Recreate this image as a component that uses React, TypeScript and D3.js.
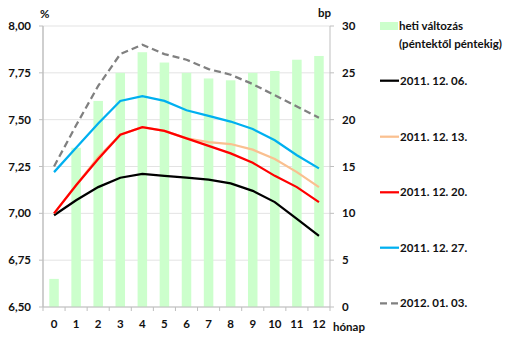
import React from "react";
import * as d3 from "d3";

const months = ["0", "1", "2", "3", "4", "5", "6", "7", "8", "9", "10", "11", "12"];
const weeklyChange = [3, 17, 22, 25, 27.2, 26.1, 25, 24.4, 24.2, 25, 25.2, 26.4, 26.8];
const s1206 = [6.99, 7.07, 7.14, 7.19, 7.21, 7.2, 7.19, 7.18, 7.16, 7.12, 7.06, 6.97, 6.88];
const s1213 = [7.0, 7.15, 7.3, 7.42, 7.46, 7.44, 7.4, 7.38, 7.37, 7.34, 7.29, 7.22, 7.14];
const s1220 = [7.0, 7.15, 7.29, 7.42, 7.46, 7.44, 7.4, 7.36, 7.32, 7.27, 7.2, 7.14, 7.06];
const s1227 = [7.22, 7.35, 7.48, 7.6, 7.625, 7.6, 7.55, 7.52, 7.49, 7.45, 7.39, 7.31, 7.24];
const s0103 = [7.25, 7.47, 7.68, 7.85, 7.9, 7.85, 7.82, 7.77, 7.74, 7.69, 7.63, 7.57, 7.51];
const leftTicks = [6.5, 6.75, 7.0, 7.25, 7.5, 7.75, 8.0];
const rightTicks = [0, 5, 10, 15, 20, 25, 30];

const seriesNames = ["2011. 12. 06.", "2011. 12. 13.", "2011. 12. 20.", "2011. 12. 27.", "2012. 01. 03."];
const seriesData = [s1206, s1213, s1220, s1227, s0103];
const seriesColors = ["#000000", "#fac090", "#ff0000", "#00b0f0", "#808080"];
const barLabel = ["heti változás", "(péntektől péntekig)"];

export default function App() {
  const left = 43, right = 330, top = 26, bottom = 307;
  const step = (right - left) / months.length;
  const xc = (i: number) => left + step * (i + 0.5);
  const yL = d3.scaleLinear().domain([6.5, 8]).range([bottom, top]);
  const yR = d3.scaleLinear().domain([0, 30]).range([bottom, top]);
  const line = d3.line<number>().x((_, i) => xc(i)).y((d) => yL(d));
  const fmt = (v: number) => v.toFixed(2).replace(".", ",");
  const font = "Lato, 'DejaVu Sans', sans-serif";
  const bw = 9.5;
  const legendY = [80.7, 136.7, 192.3, 247.7, 303.3];
  const tc = "#111";

  return (
    <svg width={522} height={343} style={{ position: "absolute", left: 0, top: 0, background: "#fff" }} fontFamily={font} fontWeight="bold" fontSize={11.5}>
      {leftTicks.map((t) => (
        <line key={"g" + t} x1={left} x2={right} y1={yL(t)} y2={yL(t)} stroke="#e3e3e3" strokeWidth={1} />
      ))}
      {weeklyChange.map((v, i) => (
        <rect key={"b" + i} x={xc(i) - bw / 2} width={bw} y={yR(v)} height={yR(0) - yR(v)} fill="#ccffcc" />
      ))}
      <line x1={left} x2={left} y1={top} y2={bottom} stroke="#bfbfbf" strokeWidth={1.5} />
      <line x1={right} x2={right} y1={top} y2={bottom} stroke="#bfbfbf" strokeWidth={1} />
      <line x1={left} x2={right} y1={bottom} y2={bottom} stroke="#bfbfbf" strokeWidth={1} />
      {leftTicks.map((t) => (
        <g key={"lt" + t}>
          <line x1={left - 4} x2={left} y1={yL(t)} y2={yL(t)} stroke="#bfbfbf" />
          <text x={31} y={yL(t)} dy="0.35em" textAnchor="end" fill={tc}>{fmt(t)}</text>
        </g>
      ))}
      {rightTicks.map((t) => (
        <g key={"rt" + t}>
          <line x1={right} x2={right + 4} y1={yR(t)} y2={yR(t)} stroke="#bfbfbf" />
          <text x={342} y={yR(t)} dy="0.35em" textAnchor="start" fill={tc}>{t}</text>
        </g>
      ))}
      {d3.range(months.length + 1).map((i) => (
        <line key={"xt" + i} x1={left + step * i} x2={left + step * i} y1={bottom} y2={bottom + 4} stroke="#bfbfbf" />
      ))}
      {months.map((m, i) => (
        <text key={"xl" + m} x={xc(i)} y={324} dy="0.35em" textAnchor="middle" fill={tc}>{m}</text>
      ))}
      <text x={40} y={14} dy="0.35em" fill={tc}>%</text>
      <text x={318} y={13} dy="0.35em" fill={tc}>bp</text>
      <text x={333} y={327} dy="0.35em" fill={tc}>hónap</text>
      {seriesData.map((s, k) => (
        <path key={"s" + k} d={line(s) || ""} fill="none" stroke={seriesColors[k]} strokeWidth={2.25}
          strokeDasharray={k === 4 ? "7,4" : undefined} />
      ))}
      <rect x={380} y={22} width={18} height={8} fill="#ccffcc" />
      <text x={399} y={25.5} dy="0.35em" fill={tc}>{barLabel[0]}</text>
      <text x={399} y={43.5} dy="0.35em" fill={tc}>{barLabel[1]}</text>
      {seriesNames.map((n, k) => (
        <g key={"lg" + k}>
          <line x1={380} x2={399} y1={legendY[k]} y2={legendY[k]} stroke={seriesColors[k]} strokeWidth={2.25}
            strokeDasharray={k === 4 ? "7,4" : undefined} />
          <text x={400} y={legendY[k]} dy="0.35em" fill={tc}>{n}</text>
        </g>
      ))}
    </svg>
  );
}
